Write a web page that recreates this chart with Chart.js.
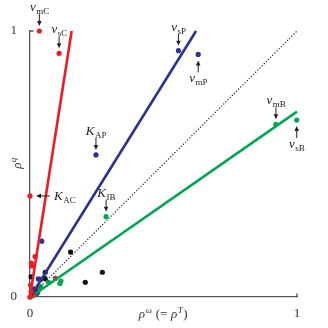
<!DOCTYPE html>
<html>
<head>
<meta charset="utf-8">
<script src="https://cdn.jsdelivr.net/npm/chart.js@4"></script>
<style>
  html, body { margin: 0; padding: 0; background: #fff; }
  #wrap { width: 328px; height: 328px; }
</style>
</head>
<body>
<div id="wrap"><canvas id="chart"></canvas></div>
<script>
// tick labels
const xTicks = [0, 1];
const yTicks = [0, 1];

// fitted lines (rho^omega, rho^q)
const redFit = [[0, 0], [0.156, 1]];
const blueFit = [[0.02, 0.03], [0.622, 1]];
const greenFit = [[0.02, 0.012], [1, 0.697]];
const diagonal = [[0, 0], [1, 1]];

// points per group
const redPoints = [[0.035, 1.0], [0.109, 0.916], [0, 0.38], [0.005, 0.127], [0.007, 0.117],
  [0.019, 0.152], [0.095, 0.07], [0.004, 0.02], [0.01, 0.008], [0.002, 0.045], [0, 0]];
const bluePoints = [[0.556, 0.926], [0.630, 0.912], [0.247, 0.534], [0.044, 0.21], [0.031, 0.068],
  [0.04, 0.066], [0.02, 0.03], [0.026, 0.014], [0.012, 0.02]];
const greenPoints = [[0.921, 0.649], [0.999, 0.665], [0.285, 0.302], [0.116, 0.06], [0.112, 0.051],
  [0.07, 0.055], [0.02, 0.026], [0.039, 0.039], [0, 0], [0.01, 0.005], [0.03, 0.02]];
const blackPoints = [[0.152, 0.169], [0.004, 0.076], [0.057, 0.093], [0.056, 0.07], [0.207, 0.055],
  [0.271, 0.093], [0.007, 0.015], [0.015, 0.03]];

// labelled points
const noteNames = ["v", "v", "v", "v", "v", "v", "K", "K", "K"];
const noteSubs = ["mC", "sC", "sP", "mP", "mB", "sB", "AP", "IB", "AC"];
const notePoints = [[0.035, 1.0], [0.109, 0.916], [0.556, 0.926], [0.630, 0.912], [0.921, 0.649],
  [0.999, 0.665], [0.247, 0.534], [0.285, 0.302], [0, 0.38]];
const noteSides = ["above", "above", "above", "below", "above", "below", "above", "above", "right"];

const RED = "#ed1c24", BLUE = "#2e3192", GREEN = "#00a651", BLACK = "#111111";
const SERIF = "'Liberation Serif', 'DejaVu Serif', serif";

const xy = arr => arr.map(p => ({ x: p[0], y: p[1] }));

function lineSet(arr, color, width, dash) {
  return {
    type: "line", data: xy(arr), borderColor: color, borderWidth: width,
    borderDash: dash || [], pointRadius: 0, fill: false, clip: false
  };
}
function pointSet(arr, color) {
  return {
    type: "scatter", data: xy(arr), backgroundColor: color, borderColor: color,
    borderWidth: 0, pointRadius: 2.6, clip: false
  };
}

function drawSub(ctx, main, sub, x, y, align) {
  ctx.font = "italic 13px " + SERIF;
  const w1 = ctx.measureText(main).width;
  ctx.font = "9px " + SERIF;
  const w2 = ctx.measureText(sub).width;
  let sx = x;
  if (align === "center") sx = x - (w1 + w2) / 2;
  ctx.textAlign = "left";
  ctx.textBaseline = "alphabetic";
  ctx.font = "italic 13px " + SERIF;
  ctx.fillText(main, sx, y);
  ctx.font = "9px " + SERIF;
  ctx.fillText(sub, sx + w1 + 0.5, y + 3);
}

function arrow(ctx, x1, y1, x2, y2) {
  const a = Math.atan2(y2 - y1, x2 - x1);
  ctx.beginPath();
  ctx.moveTo(x1, y1);
  ctx.lineTo(x2 - 3 * Math.cos(a), y2 - 3 * Math.sin(a));
  ctx.stroke();
  ctx.beginPath();
  ctx.moveTo(x2, y2);
  ctx.lineTo(x2 - 5 * Math.cos(a) + 2.3 * Math.sin(a), y2 - 5 * Math.sin(a) - 2.3 * Math.cos(a));
  ctx.lineTo(x2 - 5 * Math.cos(a) - 2.3 * Math.sin(a), y2 - 5 * Math.sin(a) + 2.3 * Math.cos(a));
  ctx.closePath();
  ctx.fill();
}

function drawSup(ctx, parts, cx, baseline) {
  let total = 0;
  parts.forEach(pt => {
    ctx.font = (pt[3] ? "" : "italic ") + pt[1] + "px " + SERIF;
    total += ctx.measureText(pt[0]).width + 0.5;
  });
  let sx = cx - total / 2;
  ctx.textAlign = "left";
  ctx.textBaseline = "alphabetic";
  parts.forEach(pt => {
    ctx.font = (pt[3] ? "" : "italic ") + pt[1] + "px " + SERIF;
    ctx.fillText(pt[0], sx, baseline + pt[2]);
    sx += ctx.measureText(pt[0]).width + 0.5;
  });
}

const notes = {
  id: "notes",
  afterDraw(chart) {
    const { ctx, scales: { x, y } } = chart;
    ctx.save();

    // small inner ticks at the "1" ends
    ctx.strokeStyle = "#555";
    ctx.lineWidth = 1.3;
    ctx.beginPath();
    ctx.moveTo(x.getPixelForValue(0), y.getPixelForValue(1));
    ctx.lineTo(x.getPixelForValue(0) + 3.5, y.getPixelForValue(1));
    ctx.moveTo(x.getPixelForValue(1), y.getPixelForValue(0));
    ctx.lineTo(x.getPixelForValue(1), y.getPixelForValue(0) - 3.5);
    ctx.stroke();

    ctx.fillStyle = "#222";
    ctx.strokeStyle = "#222";
    ctx.lineWidth = 1;
    notePoints.forEach((p, i) => {
      const px = x.getPixelForValue(p[0]);
      const py = y.getPixelForValue(p[1]);
      const side = noteSides[i];
      if (side === "above") {
        arrow(ctx, px, py - 17, px, py - 5);
        drawSub(ctx, noteNames[i], noteSubs[i], px, py - 20, "center");
      } else if (side === "below") {
        arrow(ctx, px, py + 18, px, py + 6);
        drawSub(ctx, noteNames[i], noteSubs[i], px, py + 28, "center");
      } else {
        arrow(ctx, px + 20, py, px + 6, py);
        drawSub(ctx, noteNames[i], noteSubs[i], px + 24, py + 4, "left");
      }
    });

    // axis titles
    ctx.fillStyle = "#333";
    ctx.save();
    ctx.translate(21, y.getPixelForValue(0.5) - 1);
    ctx.rotate(-Math.PI / 2);
    drawSup(ctx, [["ρ", 13, 0], ["q", 9, -5]], 0, 0);
    ctx.restore();
    drawSup(ctx, [["ρ", 13, 0], ["ω", 9, -5], [" (= ", 13, 0, true], ["ρ", 13, 0], ["T", 9, -5], [")", 13, 0, true]],
      x.getPixelForValue(0.5), 318);
    ctx.restore();
  }
};

new Chart(document.getElementById("chart"), {
  type: "scatter",
  data: {
    datasets: [
      lineSet(redFit, RED, 2.6),
      lineSet(blueFit, BLUE, 2.6),
      lineSet(greenFit, GREEN, 2.6),
      lineSet(diagonal, "#222", 1.2, [1.2, 1.8]),
      pointSet(redPoints, RED),
      pointSet(bluePoints, BLUE),
      pointSet(greenPoints, GREEN),
      pointSet(blackPoints, BLACK)
    ]
  },
  options: {
    responsive: true,
    maintainAspectRatio: false,
    animation: false,
    layout: { padding: { top: 31, right: 31, left: 0, bottom: 0 } },
    plugins: { legend: { display: false }, tooltip: { enabled: false } },
    scales: {
      x: {
        type: "linear", min: 0, max: 1,
        afterBuildTicks: s => { s.ticks = xTicks.map(v => ({ value: v })); },
        afterFit: s => { s.height = 31; s.paddingLeft = 0; s.paddingRight = 0; },
        grid: { display: false, drawTicks: false },
        border: { display: true, color: "#555", width: 1.3 },
        ticks: { padding: 9, color: "#333", autoSkip: false, maxRotation: 0, font: { family: SERIF, size: 13 } }
      },
      y: {
        type: "linear", min: 0, max: 1,
        afterBuildTicks: s => { s.ticks = yTicks.map(v => ({ value: v })); },
        afterFit: s => { s.width = 30; s.paddingTop = 0; s.paddingBottom = 0; },
        grid: { display: false, drawTicks: false },
        border: { display: true, color: "#555", width: 1.3 },
        ticks: { padding: 13, color: "#333", autoSkip: false, font: { family: SERIF, size: 13 } }
      }
    }
  },
  plugins: [notes]
});
</script>
</body>
</html>
